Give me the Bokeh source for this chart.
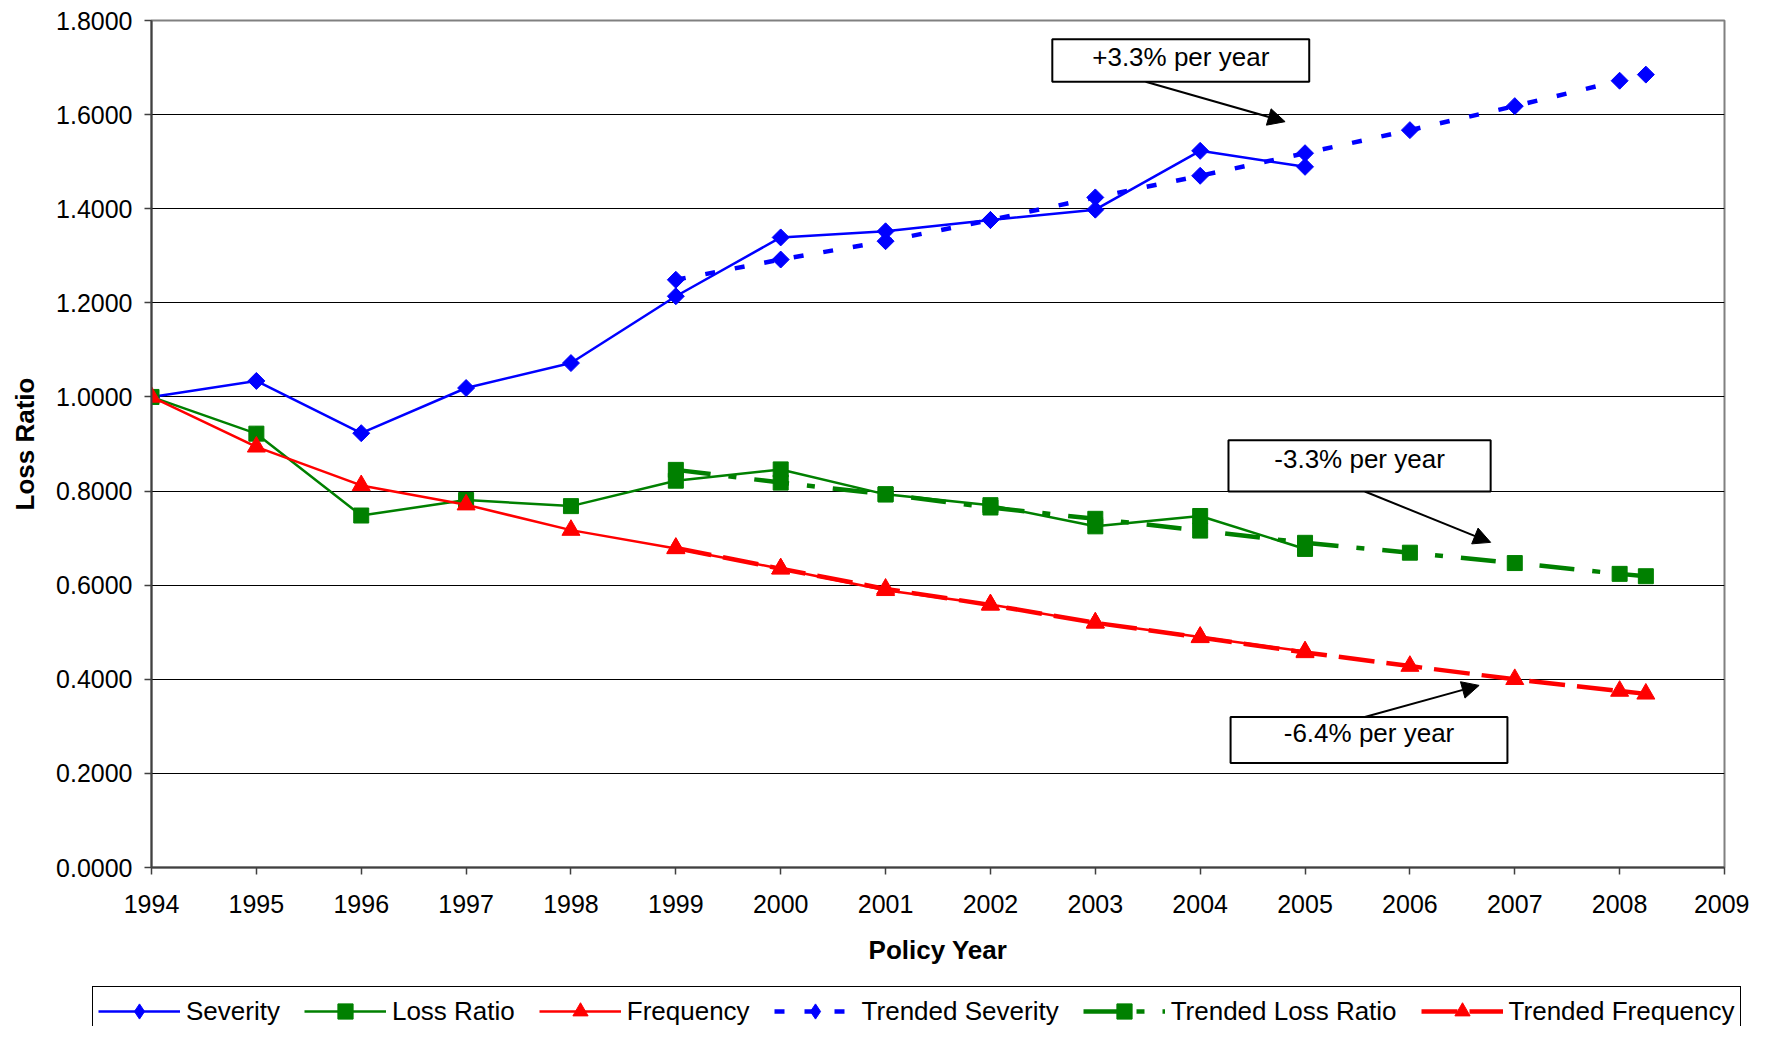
from bokeh.plotting import figure
from bokeh.layouts import column
from bokeh.models import (Range1d, FixedTicker, NumeralTickFormatter, PrintfTickFormatter,
                          Legend, LegendItem, BoxAnnotation, Label, Arrow, NormalHead)
from bokeh.embed import file_html
from bokeh.resources import INLINE

# ---------------- data ----------------
years = [1994, 1995, 1996, 1997, 1998, 1999, 2000, 2001, 2002, 2003, 2004, 2005]
severity = [1.000, 1.034, 0.923, 1.019, 1.072, 1.214, 1.339, 1.352, 1.376, 1.398, 1.523, 1.489]
loss_ratio = [1.000, 0.922, 0.748, 0.781, 0.768, 0.822, 0.846, 0.793, 0.770, 0.725, 0.747, 0.677]
frequency = [1.000, 0.894, 0.812, 0.771, 0.717, 0.678, 0.635, 0.589, 0.559, 0.520, 0.490, 0.459]

trend_years = [1999, 2000, 2001, 2002, 2003, 2004, 2005, 2006, 2007, 2008, 2008.25]
trended_severity = [1.249, 1.292, 1.331, 1.376, 1.424, 1.470, 1.518, 1.567, 1.618, 1.672, 1.685]
trended_loss_ratio = [0.845, 0.818, 0.793, 0.765, 0.741, 0.716, 0.690, 0.669, 0.647, 0.624, 0.619]
trended_frequency = [0.679, 0.635, 0.592, 0.558, 0.520, 0.489, 0.457, 0.428, 0.400, 0.375, 0.369]

year_ticks = [1994, 1995, 1996, 1997, 1998, 1999, 2000, 2001, 2002, 2003, 2004, 2005,
              2006, 2007, 2008, 2009]
value_ticks = [0.0, 0.2, 0.4, 0.6, 0.8, 1.0, 1.2, 1.4, 1.6, 1.8]

series_names = ["Severity", "Loss Ratio", "Frequency",
                "Trended Severity", "Trended Loss Ratio", "Trended Frequency"]

FONT = "Liberation Sans"
BLUE, GREEN, RED = "#0000FF", "#008000", "#FF0000"

W = 1749
MAIN_H = 980
LEG_H = 46

p = figure(width=W, height=MAIN_H, output_backend="svg", toolbar_location=None,
           x_range=Range1d(1994, 2009), y_range=Range1d(0, 1.8),
           min_border_left=151, min_border_right=25, min_border_top=20,
           min_border_bottom=113, background_fill_color="white",
           border_fill_color="white")
p.frame_align = False

# axes
p.xaxis.ticker = FixedTicker(ticks=year_ticks)
p.xaxis.formatter = PrintfTickFormatter(format="%d")
p.yaxis.ticker = FixedTicker(ticks=value_ticks)
p.yaxis.formatter = NumeralTickFormatter(format="0.0000")
p.xaxis.axis_label = "Policy Year"
p.yaxis.axis_label = "Loss Ratio"
for ax in (p.xaxis, p.yaxis):
    ax.axis_label_text_font = FONT
    ax.axis_label_text_font_size = "26px"
    ax.axis_label_text_font_style = "bold"
    ax.axis_label_text_color = "black"
    ax.major_label_text_font = FONT
    ax.major_label_text_font_size = "25px"
    ax.major_label_text_color = "black"
    ax.axis_line_color = "#404040"
    ax.axis_line_width = 2
    ax.major_tick_line_color = "#404040"
    ax.major_tick_line_width = 1.5
    ax.major_tick_in = 0
    ax.major_tick_out = 7
    ax.minor_tick_line_color = None
p.xaxis.major_label_standoff = 20
p.xaxis.axis_label_standoff = 19
p.yaxis.major_label_standoff = 12
p.yaxis.axis_label_standoff = 13

p.xgrid.visible = False
p.ygrid.grid_line_color = "black"
p.ygrid.grid_line_width = 1
p.ygrid.grid_line_alpha = 1
p.outline_line_color = "#808080"
p.outline_line_width = 2
p.outline_line_alpha = 1

DIAMOND = 0.785398  # a square turned on its corner, as in the reference
styles = [
    # x, y, color, width, dash, marker, size, angle, legend marker
    (years, severity, BLUE, 2.5, "solid", "square", 12, DIAMOND, "diamond"),
    (years, loss_ratio, GREEN, 2.5, "solid", "square", 15, 0.0, "square"),
    (years, frequency, RED, 2.5, "solid", "triangle", 18, 0.0, "triangle"),
    (trend_years, trended_severity, BLUE, 4.5, "10 20", "square", 12, DIAMOND, "diamond"),
    (trend_years, trended_loss_ratio, GREEN, 4.5, "35 18 8 18", "square", 15, 0.0, "square"),
    (trend_years, trended_frequency, RED, 4.5, "36 12", "triangle", 18, 0.0, "triangle"),
]


def series(fig, x, y, color, width, dash, marker, size, angle, visible=True):
    ln = fig.line(x, y, line_color=color, line_width=width, line_dash=dash, visible=visible)
    sc = fig.scatter(x, y, marker=marker, size=size, angle=angle, fill_color=color,
                     line_color=color, visible=visible)
    return [ln, sc]


for x, y, c, w, d, m, s, a, _lm in styles:
    series(p, x, y, c, w, d, m, s, a)

# annotation boxes with arrows
notes = [
    # text, left, right, bottom, top, text_y, arrow (x0, y0, x1, y1)
    ("+3.3% per year", 2002.59, 2005.04, 1.670, 1.760, 1.722, (2003.48, 1.670, 2004.81, 1.585)),
    ("-3.3% per year", 2004.27, 2006.77, 0.799, 0.908, 0.869, (2005.57, 0.799, 2006.77, 0.691)),
    ("-6.4% per year", 2004.29, 2006.93, 0.222, 0.320, 0.286, (2005.57, 0.320, 2006.66, 0.387)),
]
for text, l, r, b, t, ty, (x0, y0, x1, y1) in notes:
    p.add_layout(Arrow(end=NormalHead(size=17, fill_color="black", line_color="black"),
                       x_start=x0, y_start=y0, x_end=x1, y_end=y1,
                       line_color="black", line_width=2))
    p.add_layout(BoxAnnotation(left=l, right=r, bottom=b, top=t, fill_color="white",
                               fill_alpha=1, line_color="black", line_width=2, line_alpha=1))
    p.add_layout(Label(x=(l + r) / 2, y=ty, text=text, text_align="center",
                       text_baseline="middle", text_font=FONT, text_font_size="26px",
                       text_color="black"))

# ---------------- legend strip ----------------
lg = figure(width=W, height=LEG_H, output_backend="svg", toolbar_location=None,
            x_range=Range1d(1994, 2009), y_range=Range1d(0, 1.8),
            x_axis_type=None, y_axis_type=None,
            min_border_left=0, min_border_right=0, min_border_top=0, min_border_bottom=0,
            background_fill_color="white", border_fill_color="white")
lg.frame_align = False
lg.grid.visible = False
lg.outline_line_color = None

items = []
for name, (x, y, c, w, d, _m, s, _a, lm) in zip(series_names, styles):
    rs = series(lg, x, y, c, w, d, lm, s, 0.0, visible=False)
    items.append(LegendItem(label=name, renderers=rs))

legend = Legend(items=items, orientation="horizontal", ncols=6, nrows=1,
                location=(92, -10), glyph_width=82, glyph_height=38,
                label_standoff=6, spacing=24, padding=5, margin=0,
                border_line_color="black", border_line_width=1, border_line_alpha=1,
                background_fill_color="white", background_fill_alpha=1,
                inactive_fill_alpha=0,
                label_text_font=FONT, label_text_font_size="26px", label_text_color="black")
lg.add_layout(legend)

layout = column(p, lg, spacing=0)
open("out.html", "w").write(file_html(layout, INLINE))
